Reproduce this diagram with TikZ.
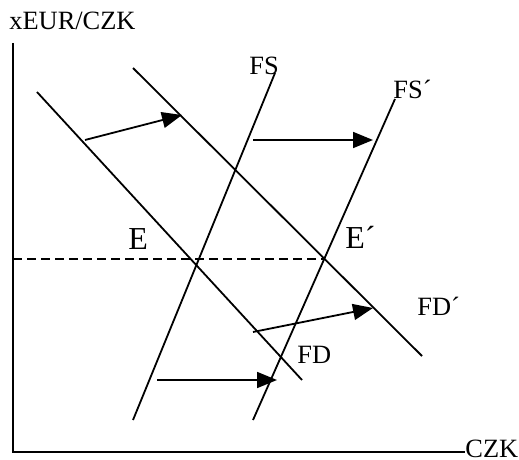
\documentclass[tikz,border=0pt]{standalone}
\usepackage{fontspec}
\setmainfont{Liberation Serif}
\usetikzlibrary{arrows.meta, intersections}

\begin{document}
\begin{tikzpicture}[x=0.5pt, y=-0.5pt,
  curve/.style={line width=0.9pt},
  shiftarrow/.style={line width=0.9pt, -{Triangle[length=10pt, width=8pt]}},
  lbl/.style={font=\fontsize{13.2}{15}\selectfont, inner sep=0pt, anchor=base west},
  eqlbl/.style={font=\fontsize{16}{18}\selectfont, inner sep=0pt, anchor=base west}]
  \useasboundingbox (0,0) rectangle (519,460);
  % Axes
  \coordinate (origin) at (13,452);
  \coordinate (ytop) at (13,43);
  \node[lbl] (ylab) at (9,30) {xEUR/CZK};
  \node[lbl] (xlab) at (465,457) {CZK};
  \draw[curve] (ytop) -- (origin) -- (origin -| xlab.west);
  % Demand and supply curves
  \coordinate (fd1) at (37,92);   \coordinate (fd2) at (302,380);
  \coordinate (fdp1) at (133,68); \coordinate (fdp2) at (422,356);
  \coordinate (fs1) at (133,420); \coordinate (fs2) at (275,73);
  \coordinate (fsp1) at (253,420); \coordinate (fsp2) at (395,99);
  \draw[curve] (fd1) -- (fd2);
  \draw[curve] (fdp1) -- (fdp2);
  \draw[curve] (fs1) -- (fs2);
  \draw[curve] (fsp1) -- (fsp2);
  % Curve labels
  \node[lbl] (fs) at (249,75) {FS};
  \node[lbl] (fsp) at (393,98) {FS´};
  \node[lbl] (fd) at (297,363) {FD};
  \node[lbl] (fdp) at (417,315) {FD´};
  % Equilibria
  \coordinate (eqp) at (intersection of fdp1--fdp2 and fsp1--fsp2);
  \draw[curve, dashed, dash pattern=on 4.5pt off 2.5pt] (origin |- eqp) -- (eqp);
  \node[eqlbl] (e) at (128,249) {E};
  \node[eqlbl] (ep) at (345,248) {E´};
  % Shifts
  \coordinate (a1) at (85,140);  \coordinate (a2) at (182,115);
  \coordinate (b1) at (253,140); \coordinate (b2) at (373,140);
  \coordinate (c1) at (253,332); \coordinate (c2) at (373,308);
  \coordinate (d1) at (157,380); \coordinate (d2) at (277,380);
  \draw[shiftarrow] (a1) -- (a2);
  \draw[shiftarrow] (b1) -- (b2);
  \draw[shiftarrow] (c1) -- (c2);
  \draw[shiftarrow] (d1) -- (d2);
\end{tikzpicture}
\end{document}
